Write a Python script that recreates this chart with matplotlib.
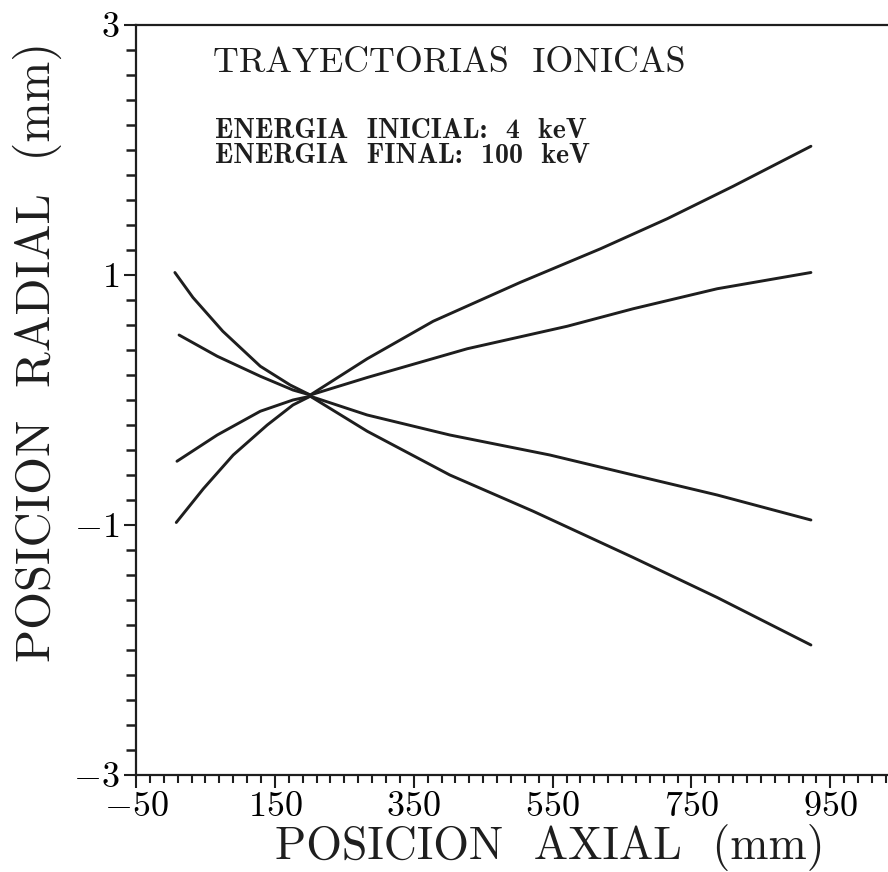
import numpy as np
import matplotlib.pyplot as plt
from matplotlib.ticker import FixedLocator

plt.rcParams['font.family'] = 'cmr10'
plt.rcParams['mathtext.fontset'] = 'cm'
plt.rcParams['axes.formatter.use_mathtext'] = True

# trajectories (axial mm, radial mm)
x_a = [6, 32, 75, 129, 172, 201, 283, 378, 503, 619, 715, 810, 922]
y_a = [1.02, 0.82, 0.55, 0.27, 0.12, 0.04, 0.33, 0.63, 0.94, 1.21, 1.45, 1.71, 2.03]

x_b = [12, 67, 129, 176, 201, 283, 427, 571, 666, 787, 922]
y_b = [0.52, 0.35, 0.19, 0.08, 0.04, 0.18, 0.41, 0.59, 0.73, 0.89, 1.02]

x_c = [9, 67, 129, 176, 201, 283, 402, 546, 666, 787, 922]
y_c = [-0.49, -0.28, -0.09, 0.0, 0.03, -0.12, -0.28, -0.44, -0.60, -0.76, -0.96]

x_d = [8, 47, 90, 139, 176, 201, 283, 402, 522, 666, 787, 922]
y_d = [-0.98, -0.71, -0.44, -0.20, -0.04, 0.03, -0.25, -0.60, -0.89, -1.26, -1.58, -1.96]

x_ticks = [-50, 150, 350, 550, 750, 950]
y_ticks = [-3, -1, 1, 3]

W, H = 888, 872
fig = plt.figure(figsize=(W / 100, H / 100), dpi=100)
ax = fig.add_axes([136 / W, (H - 775) / H, 1 - 136 / W, 750 / H])

for xs, ys in [(x_a, y_a), (x_b, y_b), (x_c, y_c), (x_d, y_d)]:
    ax.plot(xs, ys, color='#1e1e1e', lw=2.1, solid_capstyle='round')

ax.set_xlim(-50, 1033)
ax.set_ylim(-3, 3)
ax.xaxis.set_major_locator(FixedLocator(x_ticks))
ax.xaxis.set_minor_locator(FixedLocator(np.arange(-30, 1040, 20)))
ax.yaxis.set_major_locator(FixedLocator(y_ticks))
ax.yaxis.set_minor_locator(FixedLocator(np.round(np.arange(-2.8, 3.0, 0.2), 1)))
ax.tick_params(which='major', direction='out', length=9, width=1.5,
               labelsize=26, pad=3, color='#1e1e1e')
ax.tick_params(axis='x', which='minor', direction='out', length=6, width=1.5, color='#1e1e1e')
ax.tick_params(axis='y', which='minor', direction='out', length=7, width=1.8,
               color='#1e1e1e', left=True)
ax.spines['right'].set_visible(False)
for s in ['left', 'bottom', 'top']:
    ax.spines[s].set_linewidth(1.6)
    ax.spines[s].set_color('#1e1e1e')

# labels
fig.text(550 / W, (H - 859) / H, 'POSICION  AXIAL  (mm)', fontsize=33,
         ha='center', va='baseline', color='#1e1e1e')
fig.text(37 / W, (H - 352) / H, 'POSICION  RADIAL  (mm)', fontsize=35,
         rotation=90, ha='center', va='center', color='#1e1e1e')

fig.text(213 / W, (H - 72) / H, 'TRAYECTORIAS  IONICAS', fontsize=25.8,
         ha='left', va='baseline', color='#1e1e1e')
fig.text(215 / W, (H - 138) / H, 'ENERGIA  INICIAL:  4  keV', fontsize=20,
         family='cmb10', ha='left', va='baseline', color='#1e1e1e')
fig.text(215 / W, (H - 163) / H, 'ENERGIA  FINAL:  100  keV', fontsize=20,
         family='cmb10', ha='left', va='baseline', color='#1e1e1e')

fig.savefig('out.png', dpi=100)
